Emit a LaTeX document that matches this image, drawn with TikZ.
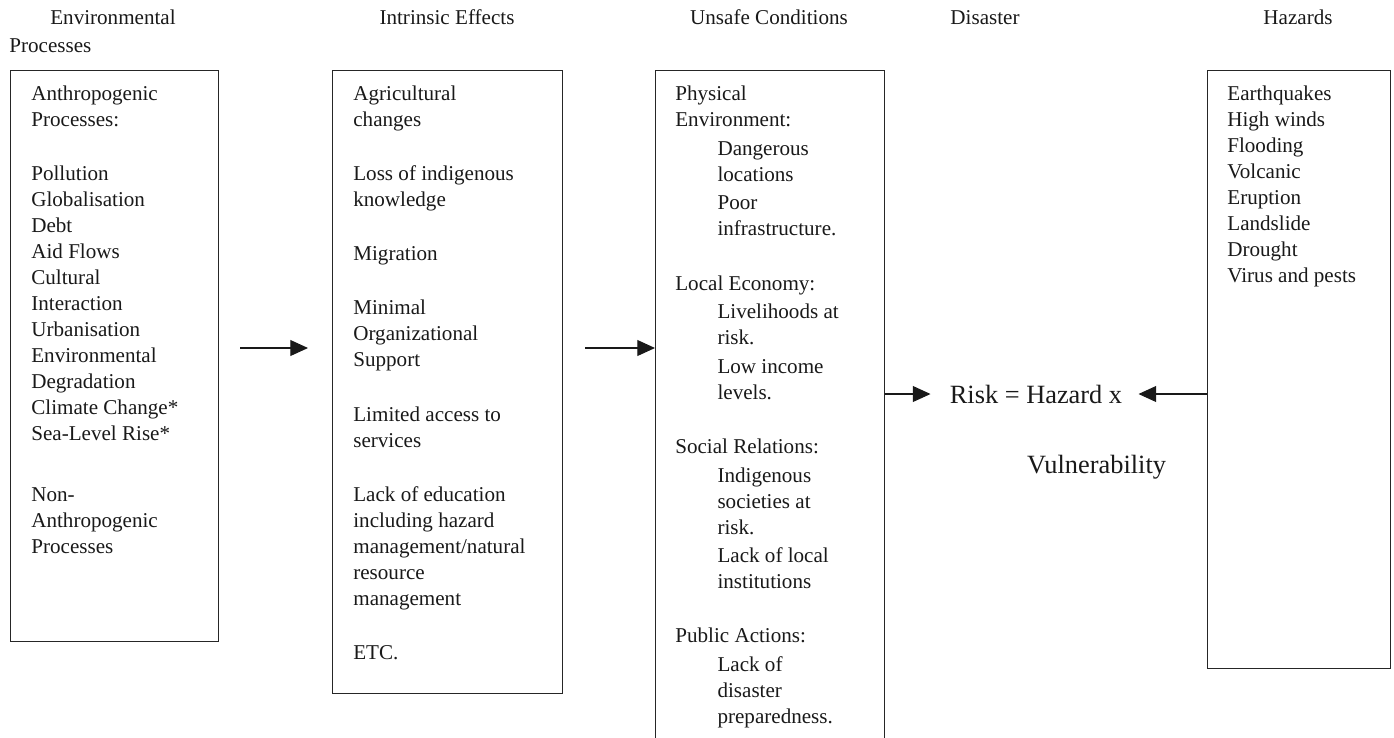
\documentclass[tikz,border=0pt]{standalone}
\usepackage{fontspec}
\setmainfont{Liberation Serif}
\usetikzlibrary{arrows.meta}

\begin{document}
\begin{tikzpicture}[
    box/.style={draw=black!85, line width=0.8pt, anchor=north west, inner sep=0pt},
    boxtext/.style={anchor=north west, inner sep=0pt, align=left, font=\fontsize{12}{14.8}\selectfont, text=black!90},
    head/.style={anchor=base, inner sep=0pt, font=\fontsize{12}{14.8}\selectfont, text=black!90},
    bigtext/.style={inner sep=0pt, font=\fontsize{15}{18}\selectfont, text=black!90},
    arrow/.style={-{Triangle[length=10pt,width=9pt]}, line width=0.6pt, black!90}
]

    % page size of the reference
    \useasboundingbox (0,0) rectangle (27.88,-14.74);

    % top of the boxes and of their text
    \def\boxtop{-1.40}
    \def\texttop{-1.64}
    \def\subind{\hspace*{24pt}}

    % column headings
    \node[head] (envtitle) at (2.26,-0.48) {Environmental};
    \node[head, anchor=base west] (envtitle2) at (0.18,-1.04) {Processes};
    \node[head] (inttitle) at (8.94,-0.48) {Intrinsic Effects};
    \node[head] (unsafetitle) at (15.38,-0.48) {Unsafe Conditions};
    \node[head] (distitle) at (19.70,-0.48) {Disaster};
    \node[head] (haztitle) at (25.96,-0.48) {Hazards};

    % the four boxes
    \node[box, minimum width=4.16cm, minimum height=11.42cm] (procbox) at (0.20,\boxtop) {};
    \node[box, minimum width=4.60cm, minimum height=12.46cm] (effbox) at (6.64,\boxtop) {};
    \node[box, minimum width=4.58cm, minimum height=13.80cm] (unsafebox) at (13.10,\boxtop) {};
    \node[box, minimum width=3.66cm, minimum height=11.96cm] (hazbox) at (24.14,\boxtop) {};

    % what stands in the boxes
    \node[boxtext] (proctext) at (0.62,\texttop) {\strut Anthropogenic\\ Processes:\\[16pt]
        Pollution\\ Globalisation\\ Debt\\ Aid Flows\\ Cultural\\ Interaction\\ Urbanisation\\
        Environmental\\ Degradation\\ Climate Change*\\ Sea-Level Rise*\\[20pt]
        Non-\\ Anthropogenic\\ Processes};
    \node[boxtext] (efftext) at (7.06,\texttop) {\strut Agricultural\\ changes\\[16pt]
        Loss of indigenous\\ knowledge\\[16pt] Migration\\[16pt]
        Minimal\\ Organizational\\ Support\\[16pt] Limited access to\\ services\\[16pt]
        Lack of education\\ including hazard\\ management/natural\\ resource\\ management\\[16pt]
        ETC.};
    \node[boxtext] (unsafetext) at (13.50,\texttop) {\strut Physical\\ Environment:\\[1.5pt]
        \subind Dangerous\\ \subind locations\\[1.5pt] \subind Poor\\ \subind infrastructure.\\[16pt]
        Local Economy:\\[1.5pt] \subind Livelihoods at\\ \subind risk.\\[1.5pt]
        \subind Low income\\ \subind levels.\\[16pt]
        Social Relations:\\[1.5pt] \subind Indigenous\\ \subind societies at\\ \subind risk.\\[1.5pt]
        \subind Lack of local\\ \subind institutions\\[16pt]
        Public Actions:\\[1.5pt] \subind Lack of\\ \subind disaster\\ \subind preparedness.};
    \node[boxtext] (haztext) at (24.54,\texttop) {\strut Earthquakes\\ High winds\\ Flooding\\
        Volcanic\\ Eruption\\ Landslide\\ Drought\\ Virus and pests};

    % the formula in the disaster column
    \node[bigtext] (risk) at (20.72,-7.88) {Risk = Hazard x};
    \node[bigtext, anchor=base] (vuln) at (21.93,-9.46) {Vulnerability};

    % arrows
    \coordinate (arrowA) at (4.80,-6.96);
    \coordinate (arrowB) at (6.16,-6.96);
    \coordinate (arrowC) at (11.70,-6.96);
    \draw[arrow] (arrowA) -- (arrowB);
    \draw[arrow] (arrowC) -- (arrowC -| unsafebox.west);
    \draw[arrow] (risk.west -| unsafebox.east) -- ([xshift=-0.38cm]risk.west);
    \draw[arrow] (risk.east -| hazbox.west) -- ([xshift=0.32cm]risk.east);

\end{tikzpicture}
\end{document}
